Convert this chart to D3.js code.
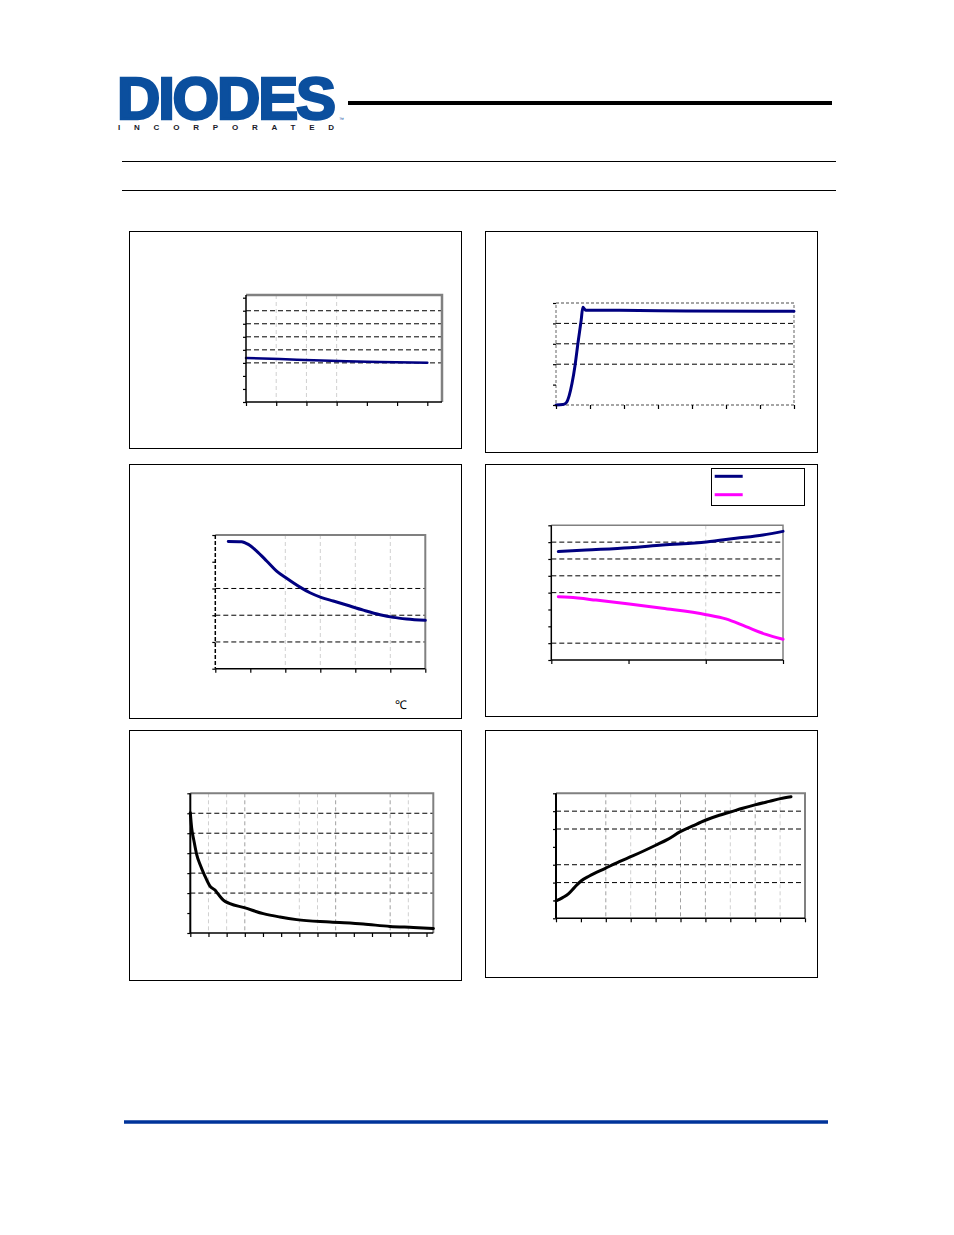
<!DOCTYPE html>
<html><head><meta charset="utf-8">
<script src="https://cdn.jsdelivr.net/npm/d3@7"></script>
<style>html,body{margin:0;padding:0;background:#fff;}svg{display:block;}</style>
</head><body>
<svg id="page" width="954" height="1235"></svg>
<script>
// ---------- data ----------
// Chart 1
const c1X = [0, 1.125, 2.23, 3.33, 4.43, 6.0];
const c1Y = [3.38, 3.30, 3.20, 3.12, 3.07, 3.02];
// Chart 2
const c2X = [0, 0.2, 0.31, 0.39, 0.47, 0.56, 0.65, 0.74, 0.79, 0.83, 0.88, 1.86, 3.82, 7.0];
const c2Y = [0, 0.02, 0.13, 0.47, 1.05, 1.94, 3.09, 4.15, 4.79, 4.72, 4.64, 4.64, 4.61, 4.59];
// Chart 3
const c3X = [0.371, 0.752, 0.943, 1.181, 1.467, 1.752, 2.038, 2.419, 2.705, 3.038, 3.371, 3.752, 4.229, 4.705, 5.086, 5.467, 6.0];
const c3Y = [4.76, 4.75, 4.65, 4.40, 4.03, 3.65, 3.38, 3.05, 2.84, 2.66, 2.53, 2.38, 2.19, 2.02, 1.92, 1.86, 1.81];
// Chart 4 (two series)
const c4aX = [0.091, 0.449, 1.01, 1.44, 2.007, 2.39, 2.74, 3.0];
const c4aY = [6.44, 6.53, 6.67, 6.83, 7.01, 7.23, 7.43, 7.64];
const c4bX = [0.091, 0.233, 0.578, 1.01, 1.44, 2.007, 2.26, 2.52, 2.78, 3.0];
const c4bY = [3.76, 3.72, 3.56, 3.33, 3.07, 2.69, 2.44, 1.98, 1.52, 1.23];
// Chart 5
const c5X = [0, 0.073, 0.202, 0.349, 0.532, 0.807, 1.083, 1.358, 1.541, 1.817, 2.183, 2.972, 4.018, 4.936, 5.853, 7.688, 9.523, 10.99, 12.28, 13.38];
const c5Y = [6.03, 5.28, 4.61, 3.94, 3.44, 2.85, 2.35, 2.15, 1.94, 1.65, 1.47, 1.27, 0.97, 0.80, 0.67, 0.55, 0.45, 0.33, 0.28, 0.23];
// Chart 6
const c6X = [0, 0.268, 0.509, 0.736, 1.004, 1.339, 1.981, 2.543, 3.078, 4.003, 4.485, 4.993, 5.489, 5.997, 6.559, 7.001, 7.497, 7.992, 8.568, 9.009, 9.438];
const c6Y = [0.97, 1.16, 1.38, 1.72, 2.09, 2.37, 2.80, 3.17, 3.49, 4.09, 4.42, 4.85, 5.17, 5.49, 5.77, 5.95, 6.16, 6.35, 6.55, 6.70, 6.81];

const tempUnit = "℃";
const logoName = "DIODES";
const logoSub = "INCORPORATED";

// ---------- page chrome ----------
const svg = d3.select("#page");
const logo = svg.append("text").attr("font-family", "Liberation Sans, Arial, sans-serif").attr("font-weight", "bold");
logo.append("tspan").attr("x", 117).attr("y", 119).text(logoName)
  .attr("font-size", 60).attr("fill", "#0b4f9e").attr("letter-spacing", -2.2)
  .attr("stroke", "#0b4f9e").attr("stroke-width", 2.5);
logo.append("tspan").attr("x", 118).attr("y", 130).text(logoSub)
  .attr("font-size", 8).attr("fill", "#1a1a2a").attr("stroke", "none").attr("letter-spacing", 13.8);
logo.append("tspan").attr("x", 339).attr("y", 121).text("™")
  .attr("font-size", 5).attr("font-weight", "normal").attr("fill", "#0b4f9e").attr("letter-spacing", 0);

svg.append("line").attr("x1", 348).attr("x2", 832).attr("y1", 103).attr("y2", 103)
  .attr("stroke", "#000").attr("stroke-width", 4);
svg.append("line").attr("x1", 122).attr("x2", 836).attr("y1", 161.5).attr("y2", 161.5)
  .attr("stroke", "#000").attr("stroke-width", 1);
svg.append("line").attr("x1", 122).attr("x2", 836).attr("y1", 190.5).attr("y2", 190.5)
  .attr("stroke", "#000").attr("stroke-width", 1);
svg.append("line").attr("x1", 124).attr("x2", 828).attr("y1", 1122).attr("y2", 1122)
  .attr("stroke", "#00339a").attr("stroke-width", 3.5);

// ---------- generic chart ----------
function drawChart(o) {
  const g = svg.append("g");
  g.append("rect").attr("x", o.frame[0] + 0.5).attr("y", o.frame[1] + 0.5)
    .attr("width", o.frame[2] - o.frame[0]).attr("height", o.frame[3] - o.frame[1])
    .attr("fill", "#fff").attr("stroke", "#000").attr("stroke-width", 1);

  const x = d3.scaleLinear().domain(o.xDomain).range(o.xRange);
  const y = d3.scaleLinear().domain(o.yDomain).range(o.yRange);
  const left = o.xRange[0], bottom = o.yRange[0];
  const right = o.right, top = o.top;

  (o.vGrid || []).forEach(v => {
    g.append("line").attr("x1", x(v.v)).attr("x2", x(v.v)).attr("y1", top).attr("y2", bottom)
      .attr("stroke", v.c).attr("stroke-width", 1).attr("stroke-dasharray", "4,3");
  });
  (o.hGrid || []).forEach(v => {
    g.append("line").attr("x1", left).attr("x2", right).attr("y1", y(v)).attr("y2", y(v))
      .attr("stroke", "#000").attr("stroke-width", 1).attr("stroke-dasharray", "5,3");
  });

  if (o.borderDashed) {
    g.append("rect").attr("x", left).attr("y", top).attr("width", right - left).attr("height", bottom - top)
      .attr("fill", "none").attr("stroke", "#888").attr("stroke-width", 1.3).attr("stroke-dasharray", "3,2");
  } else {
    g.append("path").attr("d", `M${left},${top}H${right}V${bottom}`)
      .attr("fill", "none").attr("stroke", "#808080").attr("stroke-width", o.borderW || 2);
  }

  const line = d3.line().x(d => x(d[0])).y(d => y(d[1])).curve(d3.curveMonotoneX);
  o.series.forEach(s => {
    const pts = s.x.map((v, i) => [v, s.y[i]]);
    g.append("path").attr("d", line(pts)).attr("fill", "none")
      .attr("stroke", s.color).attr("stroke-width", s.w || 3)
      .attr("stroke-linejoin", "round").attr("stroke-linecap", "round");
  });

  const ax = g.append("g").attr("transform", `translate(0,${bottom})`)
    .call(d3.axisBottom(x).tickValues(o.xTicks).tickSize(4).tickFormat(""));
  const ay = g.append("g").attr("transform", `translate(${left},0)`)
    .call(d3.axisLeft(y).tickValues(o.yTicks).tickSize(3).tickFormat(""));
  [ax, ay].forEach(a => {
    a.selectAll(".tick line").attr("stroke", "#000").attr("stroke-width", 1.2);
    a.selectAll(".tick text").remove();
    a.select(".domain").remove();
  });
  if (!o.borderDashed) {
    g.append("line").attr("x1", left).attr("x2", right).attr("y1", bottom).attr("y2", bottom)
      .attr("stroke", "#000").attr("stroke-width", 1.5);
    g.append("line").attr("x1", left).attr("x2", left).attr("y1", top).attr("y2", bottom)
      .attr("stroke", "#000").attr("stroke-width", o.leftW || 1.5)
      .attr("stroke-dasharray", o.leftDashed ? "4,2" : null);
  }
  return { g, x, y };
}

const navy = "#000080", magenta = "#ff00ff", black = "#000";
const lightG = "#d0d0d0", darkG = "#a0a0a0";

// Chart 1
drawChart({
  frame: [129, 231, 461, 448],
  xDomain: [0, 6], xRange: [246, 427.3], right: 442, top: 295,
  yDomain: [0, 8], yRange: [402, 297.7],
  xTicks: d3.range(0, 7), yTicks: d3.range(0, 9),
  hGrid: [3, 4, 5, 6, 7],
  vGrid: [1, 2, 3].map(v => ({ v, c: lightG })),
  borderW: 2.5,
  series: [{ x: c1X, y: c1Y, color: navy, w: 2.5 }]
});

// Chart 2
drawChart({
  frame: [485, 231, 817, 452],
  xDomain: [0, 7], xRange: [556, 794], right: 794, top: 303,
  yDomain: [0, 5], yRange: [405, 303],
  xTicks: d3.range(0, 8), yTicks: d3.range(0, 6),
  hGrid: [2, 3, 4],
  borderDashed: true,
  series: [{ x: c2X, y: c2Y, color: navy, w: 3 }]
});

// Chart 3
drawChart({
  frame: [129, 464, 461, 718],
  xDomain: [0, 6], xRange: [215.3, 425.3], right: 425.3, top: 535,
  yDomain: [0, 5], yRange: [668.7, 535],
  xTicks: d3.range(0, 7), yTicks: d3.range(0, 6),
  hGrid: [1, 2, 3],
  vGrid: [2, 3, 4, 5].map(v => ({ v, c: lightG })),
  leftDashed: true,
  series: [{ x: c3X, y: c3Y, color: navy, w: 3 }]
});
svg.append("text").attr("x", 395).attr("y", 709).text(tempUnit)
  .attr("font-family", "Liberation Sans, Arial, sans-serif").attr("font-size", 12).attr("fill", "#000");

// Chart 4
drawChart({
  frame: [485, 464, 817, 716],
  xDomain: [0, 3], xRange: [551.3, 783], right: 783, top: 525.3,
  yDomain: [0, 8], yRange: [660, 525.3],
  xTicks: d3.range(0, 4), yTicks: d3.range(0, 9),
  hGrid: [1, 4, 5, 6, 7],
  vGrid: [{ v: 2, c: lightG }],
  borderW: 1.5,
  series: [{ x: c4aX, y: c4aY, color: navy, w: 3 }, { x: c4bX, y: c4bY, color: magenta, w: 3 }]
});
const lg = svg.append("g");
lg.append("rect").attr("x", 711.5).attr("y", 468.5).attr("width", 93).attr("height", 37)
  .attr("fill", "#fff").attr("stroke", "#000").attr("stroke-width", 1);
[[navy, 476.3], [magenta, 494.7]].forEach(([c, yy]) => {
  lg.append("line").attr("x1", 714.7).attr("x2", 742.7).attr("y1", yy).attr("y2", yy)
    .attr("stroke", c).attr("stroke-width", 3);
});

// Chart 5
drawChart({
  frame: [129, 730, 461, 980],
  xDomain: [0, 13], xRange: [190.3, 426.5], right: 433.3, top: 793.3,
  yDomain: [0, 7], yRange: [933, 793.3],
  xTicks: d3.range(0, 14), yTicks: d3.range(0, 8),
  hGrid: [2, 3, 4, 5, 6],
  vGrid: [1, 2, 3, 6, 7, 8, 11, 12].map(v => ({ v, c: [3, 8, 11].includes(v) ? darkG : lightG })),
  leftW: 2,
  series: [{ x: c5X, y: c5Y, color: black, w: 3 }]
});

// Chart 6
drawChart({
  frame: [485, 730, 817, 977],
  xDomain: [0, 10], xRange: [556, 805], right: 805, top: 793.3,
  yDomain: [0, 7], yRange: [918.3, 793.3],
  xTicks: d3.range(0, 11), yTicks: d3.range(0, 8),
  hGrid: [2, 3, 5, 6],
  vGrid: [2, 3, 4, 5, 6, 7, 8, 9].map(v => ({ v, c: [3, 7, 9].includes(v) ? lightG : darkG })),
  leftW: 2,
  series: [{ x: c6X, y: c6Y, color: black, w: 3 }]
});
</script>
</body></html>
